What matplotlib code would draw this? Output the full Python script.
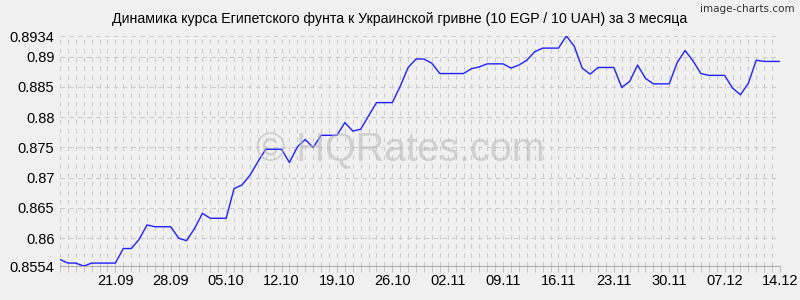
import numpy as np
import pandas as pd
import matplotlib
matplotlib.use('Agg')
import matplotlib.pyplot as plt
import matplotlib.dates as mdates

plt.rcParams['font.family'] = ['Liberation Sans', 'DejaVu Sans']

# daily rate, 14.09 .. 14.12
dates = pd.date_range('2020-09-14', '2020-12-14', freq='D')
rates = [
    0.8565, 0.8559, 0.8559, 0.8554, 0.8559, 0.8559, 0.8559, 0.8559, 0.8583, 0.8583,
    0.8598, 0.8622, 0.8619, 0.8619, 0.8619, 0.8600, 0.8596, 0.8616, 0.8641, 0.8633,
    0.8633, 0.8633, 0.8682, 0.8688, 0.8704, 0.8726, 0.8747, 0.8747, 0.8747, 0.8725,
    0.8751, 0.8763, 0.8750, 0.8770, 0.8770, 0.8770, 0.8791, 0.8777, 0.8780, 0.8802,
    0.8824, 0.8824, 0.8824, 0.8851, 0.8882, 0.8896, 0.8896, 0.8889, 0.8872, 0.8872,
    0.8872, 0.8872, 0.8880, 0.8883, 0.8888, 0.8888, 0.8888, 0.8881, 0.8886, 0.8894,
    0.8908, 0.8914, 0.8914, 0.8914, 0.8934, 0.8917, 0.8881, 0.8871, 0.8882, 0.8882,
    0.8882, 0.8849, 0.8859, 0.8886, 0.8864, 0.8855, 0.8855, 0.8855, 0.8890, 0.8910,
    0.8893, 0.8872, 0.8869, 0.8869, 0.8869, 0.8848, 0.8837, 0.8856, 0.8894, 0.8892,
    0.8892, 0.8892,
]
y_ticks = [0.8554, 0.86, 0.865, 0.87, 0.875, 0.88, 0.885, 0.89, 0.8934]
y_labels = ['0.8554', '0.86', '0.865', '0.87', '0.875', '0.88', '0.885', '0.89', '0.8934']
title = 'Динамика курса Египетского фунта к Украинской гривне (10 EGP / 10 UAH) за 3 месяца'

bg = '#f0f0f0'
fig = plt.figure(figsize=(8, 3), dpi=100, facecolor=bg)
ax = fig.add_axes([0.075, 0.113, 0.9, 0.767], facecolor=bg)

ax.plot(dates, rates, color='#2020ff', lw=1.0, zorder=3)

ax.set_xlim(dates[0], dates[-1])
ax.set_ylim(min(y_ticks), max(y_ticks))
ax.set_yticks(y_ticks)
ax.set_yticklabels(y_labels)

week_ticks = dates[7::7]
ax.set_xticks(week_ticks)
ax.set_xticklabels([d.strftime('%d.%m') for d in week_ticks])
ax.xaxis.set_minor_locator(mdates.DayLocator())

ax.grid(which='both', axis='x', color='#cccccc', ls=(0, (4, 4)), lw=0.8)
ax.grid(which='major', axis='y', color='#cccccc', ls=(0, (4, 4)), lw=0.8)

for s in ['top', 'right', 'left']:
    ax.spines[s].set_visible(False)
ax.spines['bottom'].set_color('#b0b0b0')
ax.tick_params(axis='y', length=0, labelsize=10.5, pad=4)
ax.tick_params(axis='x', which='both', length=4, color='#c0c0c0', labelsize=10.5, pad=2)

fig.text(0.5, 0.935, title, ha='center', va='center', fontsize=10.2)
fig.text(0.993, 0.985, 'image-charts.com', ha='right', va='top', fontsize=7.5,
         family='DejaVu Sans Condensed', color='#333333')
fig.text(0.5, 0.5, '© HQRates.com', ha='center', va='center', fontsize=28.5,
         color='#b8b8b8', alpha=0.55, zorder=1)

fig.savefig('out.png', dpi=100, facecolor=bg)
